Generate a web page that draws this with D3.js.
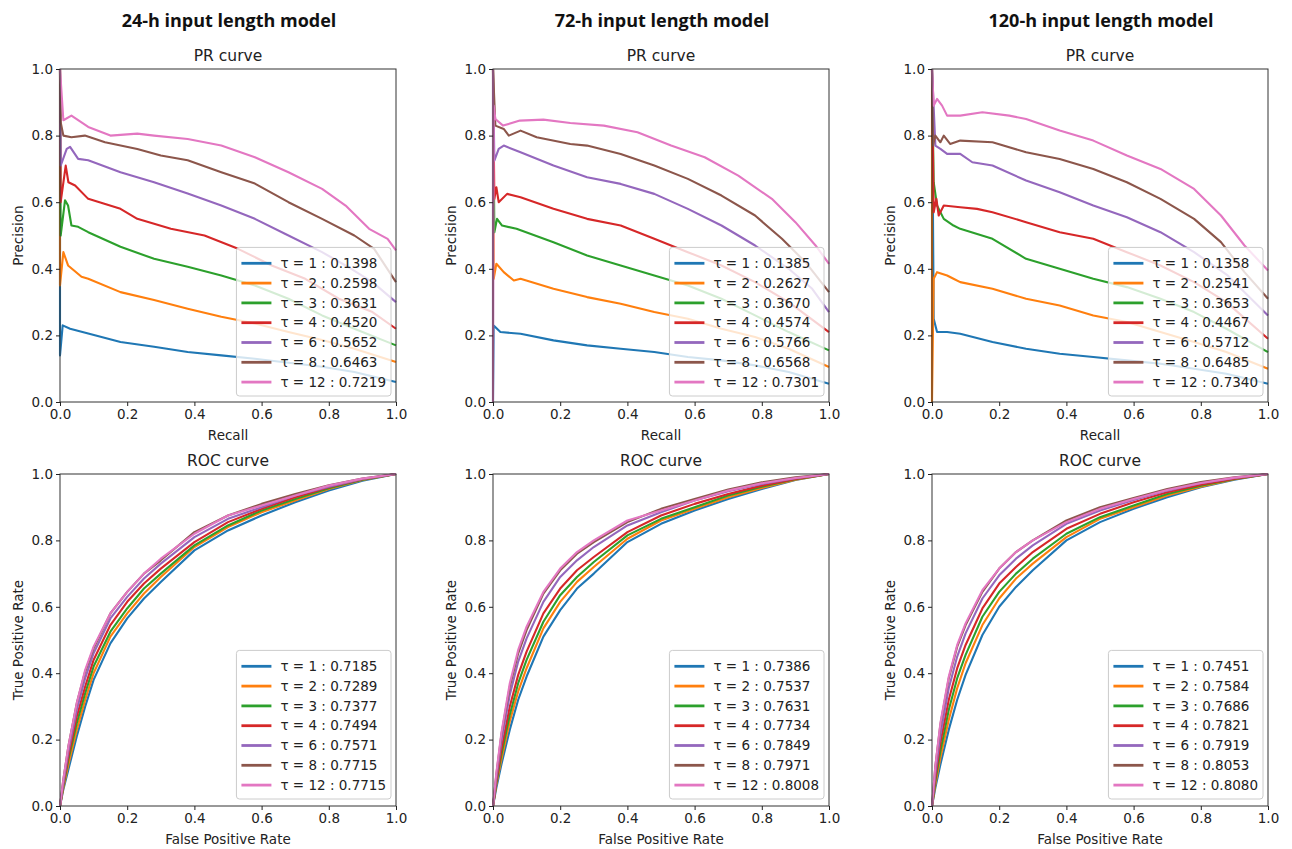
<!DOCTYPE html>
<html>
<head>
<meta charset="utf-8">
<script src="https://cdn.jsdelivr.net/npm/d3@7"></script>
<style>
  body { margin: 0; background: #fff; }
  svg { display: block; }
  .tick text { font-family: "DejaVu Sans", sans-serif; font-size: 13.5px; fill: #222; }
  .tick line { stroke: #222; }
  .lbl { font-family: "DejaVu Sans", sans-serif; font-size: 13.5px; fill: #222; }
  .ttl { font-family: "DejaVu Sans", sans-serif; font-size: 15.5px; fill: #222; }
  .main { font-family: "Open Sans", Lato, sans-serif; font-weight: bold; font-size: 18px; fill: #111; }
</style>
</head>
<body>
<svg id="chart" width="1292" height="849"></svg>
<script>
var models = ["24-h input length model", "72-h input length model", "120-h input length model"];
var taus = [1, 2, 3, 4, 6, 8, 12];
var colors = ["#1f77b4", "#ff7f0e", "#2ca02c", "#d62728", "#9467bd", "#8c564b", "#e377c2"];
var axisTicks = [0, 0.2, 0.4, 0.6, 0.8, 1.0];

// average precision / AUC shown in the legends
var ap24 = [0.1398, 0.2598, 0.3631, 0.4520, 0.5652, 0.6463, 0.7219];
var ap72 = [0.1385, 0.2627, 0.3670, 0.4574, 0.5766, 0.6568, 0.7301];
var ap120 = [0.1358, 0.2541, 0.3653, 0.4467, 0.5712, 0.6485, 0.7340];
var auc24 = [0.7185, 0.7289, 0.7377, 0.7494, 0.7571, 0.7715, 0.7715];
var auc72 = [0.7386, 0.7537, 0.7631, 0.7734, 0.7849, 0.7971, 0.8008];
var auc120 = [0.7451, 0.7584, 0.7686, 0.7821, 0.7919, 0.8053, 0.8080];

// PR curves: [recall, precision]
var pr24 = [
  [[0,1],[0,0.14],[0.008,0.23],[0.03,0.22],[0.084,0.206],[0.18,0.18],[0.28,0.166],[0.38,0.15],[0.48,0.14],[0.58,0.13],[0.68,0.118],[0.78,0.106],[0.876,0.09],[1,0.06]],
  [[0,1],[0,0.35],[0.01,0.45],[0.024,0.41],[0.064,0.376],[0.084,0.37],[0.18,0.33],[0.28,0.306],[0.38,0.28],[0.48,0.256],[0.58,0.236],[0.68,0.21],[0.78,0.186],[0.876,0.16],[1,0.12]],
  [[0,1],[0.002,0.5],[0.015,0.606],[0.024,0.59],[0.034,0.53],[0.054,0.526],[0.084,0.51],[0.18,0.466],[0.28,0.43],[0.38,0.406],[0.48,0.38],[0.58,0.35],[0.68,0.31],[0.78,0.26],[0.876,0.22],[1,0.17]],
  [[0,1],[0.002,0.6],[0.017,0.71],[0.025,0.66],[0.045,0.65],[0.084,0.61],[0.18,0.58],[0.23,0.55],[0.33,0.52],[0.43,0.5],[0.53,0.46],[0.63,0.41],[0.73,0.37],[0.83,0.31],[0.93,0.27],[1,0.22]],
  [[0,1],[0.002,0.71],[0.02,0.76],[0.03,0.766],[0.054,0.73],[0.084,0.726],[0.18,0.69],[0.28,0.66],[0.38,0.626],[0.48,0.59],[0.58,0.55],[0.68,0.5],[0.78,0.45],[0.85,0.41],[0.93,0.36],[1,0.3]],
  [[0,1],[0.002,0.84],[0.01,0.8],[0.034,0.795],[0.074,0.8],[0.134,0.78],[0.23,0.76],[0.3,0.74],[0.38,0.726],[0.48,0.69],[0.58,0.656],[0.68,0.6],[0.78,0.55],[0.876,0.5],[0.935,0.46],[1,0.36]],
  [[0,1],[0.01,0.846],[0.034,0.86],[0.084,0.826],[0.15,0.8],[0.23,0.806],[0.28,0.8],[0.38,0.79],[0.48,0.77],[0.58,0.735],[0.68,0.69],[0.78,0.64],[0.85,0.59],[0.92,0.52],[0.975,0.49],[1,0.455]]
];
var pr72 = [
  [[0,1],[0,0.0],[0.002,0.23],[0.022,0.21],[0.082,0.205],[0.18,0.185],[0.28,0.17],[0.38,0.16],[0.48,0.15],[0.58,0.135],[0.68,0.125],[0.78,0.11],[0.88,0.09],[1,0.055]],
  [[0,1],[0.002,0.37],[0.01,0.415],[0.032,0.39],[0.062,0.365],[0.082,0.37],[0.18,0.34],[0.28,0.315],[0.38,0.295],[0.48,0.27],[0.58,0.25],[0.68,0.22],[0.78,0.195],[0.88,0.16],[1,0.105]],
  [[0,1],[0.004,0.51],[0.012,0.55],[0.027,0.53],[0.07,0.52],[0.18,0.48],[0.28,0.44],[0.38,0.41],[0.48,0.38],[0.58,0.35],[0.68,0.31],[0.78,0.26],[0.88,0.21],[1,0.155]],
  [[0,1],[0.004,0.61],[0.01,0.645],[0.017,0.6],[0.042,0.625],[0.082,0.615],[0.18,0.58],[0.28,0.55],[0.38,0.53],[0.48,0.49],[0.58,0.45],[0.68,0.41],[0.78,0.36],[0.88,0.3],[1,0.21]],
  [[0,1],[0.004,0.725],[0.017,0.76],[0.032,0.77],[0.082,0.75],[0.18,0.71],[0.28,0.675],[0.38,0.655],[0.48,0.625],[0.58,0.58],[0.68,0.53],[0.78,0.47],[0.88,0.4],[0.95,0.34],[1,0.27]],
  [[0,1],[0.007,0.83],[0.032,0.82],[0.047,0.8],[0.082,0.815],[0.13,0.795],[0.23,0.775],[0.28,0.77],[0.38,0.745],[0.48,0.71],[0.58,0.67],[0.68,0.62],[0.78,0.56],[0.86,0.49],[0.93,0.42],[1,0.33]],
  [[0,1],[0,0],[0.002,0.89],[0.007,0.85],[0.03,0.83],[0.08,0.845],[0.15,0.848],[0.23,0.838],[0.33,0.83],[0.43,0.81],[0.53,0.77],[0.63,0.735],[0.73,0.68],[0.83,0.61],[0.9,0.54],[0.96,0.47],[1,0.415]]
];
var pr120 = [
  [[0,1],[0.005,0.25],[0.015,0.21],[0.045,0.21],[0.084,0.205],[0.18,0.18],[0.28,0.16],[0.38,0.145],[0.48,0.135],[0.58,0.125],[0.68,0.115],[0.78,0.1],[0.876,0.085],[1,0.055]],
  [[0,1],[0,0],[0.005,0.37],[0.015,0.39],[0.045,0.38],[0.064,0.37],[0.084,0.36],[0.18,0.34],[0.28,0.31],[0.38,0.29],[0.48,0.26],[0.58,0.24],[0.68,0.21],[0.78,0.18],[0.876,0.15],[1,0.1]],
  [[0,1],[0.005,0.66],[0.015,0.59],[0.035,0.55],[0.064,0.53],[0.084,0.52],[0.18,0.49],[0.28,0.43],[0.38,0.4],[0.48,0.37],[0.58,0.345],[0.68,0.31],[0.78,0.27],[0.876,0.22],[1,0.15]],
  [[0,1],[0.005,0.57],[0.013,0.61],[0.02,0.56],[0.035,0.59],[0.084,0.585],[0.134,0.58],[0.18,0.57],[0.28,0.54],[0.38,0.51],[0.48,0.49],[0.58,0.45],[0.68,0.41],[0.78,0.36],[0.876,0.3],[1,0.19]],
  [[0,1],[0.01,0.77],[0.025,0.76],[0.045,0.745],[0.084,0.745],[0.12,0.72],[0.18,0.71],[0.28,0.665],[0.38,0.63],[0.48,0.59],[0.58,0.555],[0.68,0.51],[0.78,0.45],[0.88,0.38],[1,0.26]],
  [[0,1],[0.003,0.77],[0.01,0.8],[0.025,0.78],[0.035,0.8],[0.054,0.775],[0.084,0.785],[0.18,0.78],[0.28,0.75],[0.38,0.73],[0.48,0.7],[0.58,0.66],[0.68,0.61],[0.78,0.55],[0.86,0.48],[0.93,0.39],[1,0.31]],
  [[0,1],[0.005,0.89],[0.015,0.91],[0.03,0.89],[0.045,0.86],[0.084,0.86],[0.15,0.87],[0.23,0.86],[0.28,0.85],[0.38,0.815],[0.48,0.785],[0.58,0.74],[0.68,0.7],[0.78,0.64],[0.86,0.56],[0.93,0.47],[1,0.395]]
];

// ROC curves: true positive rate at each false positive rate in fprGrid
var fprGrid = [0, 0.01, 0.025, 0.05, 0.075, 0.1, 0.15, 0.2, 0.25, 0.3, 0.4, 0.5, 0.6, 0.7, 0.8, 0.9, 1.0];
var roc24 = [
  [0, 0.05, 0.11, 0.21, 0.30, 0.38, 0.49, 0.565, 0.625, 0.675, 0.77, 0.83, 0.875, 0.915, 0.95, 0.98, 1],
  [0, 0.055, 0.125, 0.23, 0.32, 0.40, 0.51, 0.58, 0.64, 0.69, 0.78, 0.84, 0.885, 0.92, 0.955, 0.982, 1],
  [0, 0.06, 0.14, 0.25, 0.34, 0.42, 0.525, 0.595, 0.655, 0.70, 0.785, 0.845, 0.89, 0.925, 0.957, 0.983, 1],
  [0, 0.065, 0.15, 0.27, 0.36, 0.44, 0.545, 0.615, 0.67, 0.715, 0.795, 0.855, 0.895, 0.93, 0.96, 0.984, 1],
  [0, 0.07, 0.165, 0.29, 0.385, 0.46, 0.565, 0.63, 0.685, 0.73, 0.81, 0.865, 0.90, 0.935, 0.962, 0.985, 1],
  [0, 0.08, 0.18, 0.31, 0.405, 0.475, 0.58, 0.645, 0.70, 0.74, 0.825, 0.875, 0.91, 0.94, 0.966, 0.986, 1],
  [0, 0.08, 0.18, 0.31, 0.41, 0.48, 0.58, 0.645, 0.70, 0.745, 0.82, 0.875, 0.905, 0.935, 0.965, 0.986, 1]
];
var roc72 = [
  [0, 0.055, 0.125, 0.23, 0.32, 0.39, 0.51, 0.59, 0.655, 0.70, 0.795, 0.85, 0.89, 0.925, 0.955, 0.982, 1],
  [0, 0.065, 0.14, 0.255, 0.345, 0.415, 0.535, 0.615, 0.675, 0.72, 0.805, 0.86, 0.895, 0.93, 0.958, 0.983, 1],
  [0, 0.07, 0.155, 0.275, 0.37, 0.44, 0.555, 0.635, 0.69, 0.735, 0.815, 0.865, 0.90, 0.935, 0.962, 0.984, 1],
  [0, 0.075, 0.17, 0.30, 0.395, 0.465, 0.58, 0.655, 0.71, 0.75, 0.825, 0.875, 0.91, 0.94, 0.965, 0.985, 1],
  [0, 0.085, 0.195, 0.335, 0.435, 0.505, 0.615, 0.69, 0.74, 0.78, 0.845, 0.885, 0.92, 0.948, 0.97, 0.987, 1],
  [0, 0.095, 0.215, 0.36, 0.46, 0.53, 0.64, 0.71, 0.76, 0.795, 0.855, 0.895, 0.925, 0.953, 0.975, 0.99, 1],
  [0, 0.10, 0.22, 0.37, 0.47, 0.54, 0.645, 0.715, 0.765, 0.80, 0.86, 0.89, 0.92, 0.95, 0.972, 0.988, 1]
];
var roc120 = [
  [0, 0.055, 0.125, 0.23, 0.32, 0.395, 0.515, 0.60, 0.66, 0.71, 0.80, 0.855, 0.895, 0.93, 0.96, 0.983, 1],
  [0, 0.065, 0.145, 0.26, 0.355, 0.43, 0.545, 0.625, 0.685, 0.73, 0.81, 0.865, 0.90, 0.935, 0.962, 0.984, 1],
  [0, 0.075, 0.165, 0.29, 0.385, 0.455, 0.57, 0.645, 0.70, 0.745, 0.82, 0.87, 0.905, 0.94, 0.965, 0.985, 1],
  [0, 0.085, 0.19, 0.32, 0.415, 0.485, 0.595, 0.67, 0.72, 0.765, 0.835, 0.88, 0.915, 0.945, 0.968, 0.986, 1],
  [0, 0.10, 0.215, 0.355, 0.45, 0.52, 0.625, 0.695, 0.745, 0.785, 0.85, 0.89, 0.922, 0.95, 0.972, 0.988, 1],
  [0, 0.12, 0.245, 0.385, 0.48, 0.545, 0.645, 0.715, 0.765, 0.80, 0.86, 0.90, 0.928, 0.955, 0.976, 0.99, 1],
  [0, 0.12, 0.25, 0.39, 0.485, 0.55, 0.65, 0.715, 0.765, 0.80, 0.855, 0.895, 0.925, 0.952, 0.973, 0.989, 1]
];

var svg = d3.select("#chart");
var colLeft = [60, 493, 932];
var panelW = 336;
var rows = [
  { top: 69, h: 333, title: "PR curve", xLabel: "Recall", yLabel: "Precision",
    data: [pr24, pr72, pr120], scores: [ap24, ap72, ap120], legendBottom: 6 },
  { top: 474, h: 332, title: "ROC curve", xLabel: "False Positive Rate", yLabel: "True Positive Rate",
    data: [roc24, roc72, roc120].map(function (m) {
      return m.map(function (tpr) { return tpr.map(function (t, i) { return [fprGrid[i], t]; }); });
    }),
    scores: [auc24, auc72, auc120], legendBottom: 7 }
];

var drawPanel = function (left, row, series, scores) {
  var x = d3.scaleLinear().domain([0, 1]).range([0, panelW]);
  var y = d3.scaleLinear().domain([0, 1]).range([row.h, 0]);
  var g = svg.append("g").attr("transform", "translate(" + left + "," + row.top + ")");

  var line = d3.line().x(function (d) { return x(d[0]); }).y(function (d) { return y(d[1]); });
  series.forEach(function (s, i) {
    g.append("path")
      .attr("d", line(s))
      .attr("fill", "none")
      .attr("stroke", colors[i])
      .attr("stroke-width", 2.1)
      .attr("stroke-linejoin", "round");
  });

  // frame
  g.append("rect").attr("width", panelW).attr("height", row.h)
    .attr("fill", "none").attr("stroke", "#333").attr("stroke-width", 1);

  g.append("g").attr("transform", "translate(0," + row.h + ")")
    .call(d3.axisBottom(x).tickValues(axisTicks).tickFormat(d3.format(".1f")).tickSizeOuter(0).tickSize(4).tickPadding(3))
    .call(function (a) { a.select(".domain").remove(); });
  g.append("g")
    .call(d3.axisLeft(y).tickValues(axisTicks).tickFormat(d3.format(".1f")).tickSizeOuter(0).tickSize(4).tickPadding(3))
    .call(function (a) { a.select(".domain").remove(); });

  g.append("text").attr("class", "ttl").attr("x", panelW / 2).attr("y", -8)
    .attr("text-anchor", "middle").text(row.title);
  g.append("text").attr("class", "lbl").attr("x", panelW / 2).attr("y", row.h + 38)
    .attr("text-anchor", "middle").text(row.xLabel);
  g.append("text").attr("class", "lbl")
    .attr("transform", "translate(-37," + (row.h / 2) + ") rotate(-90)")
    .attr("text-anchor", "middle").text(row.yLabel);

  // legend
  var rowH = 19.8, padTop = 6, lg = g.append("g");
  var box = lg.append("rect").attr("fill", "#fff").attr("fill-opacity", 0.8)
    .attr("stroke", "#ccc").attr("stroke-width", 1).attr("rx", 3);
  var maxW = 0;
  taus.forEach(function (t, i) {
    var cy = padTop + rowH * i + rowH / 2;
    lg.append("line").attr("x1", 4).attr("x2", 34).attr("y1", cy).attr("y2", cy)
      .attr("stroke", colors[i]).attr("stroke-width", 2.8);
    var tx = lg.append("text").attr("class", "lbl").attr("x", 43).attr("y", cy)
      .attr("dy", "0.35em").text("\u03c4 = " + t + " : " + scores[i].toFixed(4));
    maxW = Math.max(maxW, tx.node().getComputedTextLength());
  });
  var bw = 43 + maxW + 6, bh = padTop * 2 + rowH * taus.length - 2;
  box.attr("x", -1).attr("y", 0).attr("width", bw).attr("height", bh);
  lg.attr("transform", "translate(" + (panelW - 4 - bw) + "," + (row.h - row.legendBottom - bh) + ")");
};

rows.forEach(function (row) {
  colLeft.forEach(function (left, c) {
    drawPanel(left, row, row.data[c], row.scores[c]);
  });
});

models.forEach(function (m, c) {
  svg.append("text").attr("class", "main")
    .attr("x", colLeft[c] + panelW / 2 + 1).attr("y", 27)
    .attr("text-anchor", "middle").text(m);
});
</script>
</body>
</html>
